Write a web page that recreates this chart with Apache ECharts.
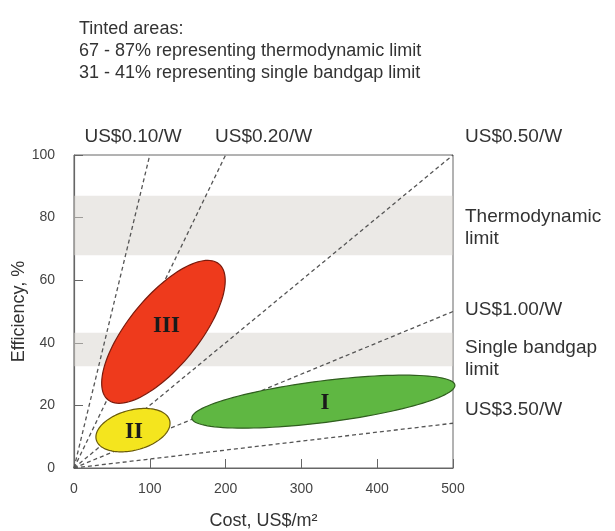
<!DOCTYPE html>
<html><head><meta charset="utf-8">
<script src="https://cdn.jsdelivr.net/npm/echarts@6/dist/echarts.min.js"></script>
<style>html,body{margin:0;padding:0;background:#fff}#c{width:615px;height:531px}</style>
</head><body><div id="c"></div>
<script>
// ---- data ----
const costTicks = [0, 100, 200, 300, 400, 500];
const effTicks = [0, 20, 40, 60, 80, 100];
// cost-per-watt guide lines from the origin, end points (cost US$/m2, efficiency %)
const priceLabels = ['US$0.10/W', 'US$0.20/W', 'US$0.50/W', 'US$1.00/W', 'US$3.50/W'];
const lineEndCost = [100, 200, 500, 500, 500];
const lineEndEff = [100, 100, 100, 50, 14.3];
// tinted bands (efficiency %)
const bandNames = ['Thermodynamic limit', 'Single bandgap limit'];
const bandLow = [68, 32.5];
const bandHigh = [87, 43.2];
// technology generations drawn as ellipses: centre, major and minor half-vectors (data units)
const genNames = ['I', 'II', 'III'];
const centerCost = [329, 77.8, 118];
const centerEff = [21.2, 12.1, 43.5];
const majorCost = [173.5, 48.4, 73.2];
const majorEff = [5.3, 3.1, 21.7];
const minorCost = [3.4, 6.9, 35.8];
const minorEff = [-6.6, -6.2, -7.1];
// where the generation numerals sit (data units)
const labelCost = [331, 79, 122];
const labelEff = [20.8, 11.5, 45.5];

const FONT = "'Liberation Sans', Arial, Helvetica, sans-serif";
const genFill = ['#5fb742', '#f4e51e', '#ee3a1c'];
const genStroke = ['#2f5e1e', '#6a5b08', '#7a1a0c'];

const chart = echarts.init(document.getElementById('c'), null, {renderer: 'canvas'});

const lineSeries = priceLabels.map((n, i) => ({
  name: n, type: 'line', z: 1, silent: true, symbol: 'none',
  data: [[0, 0], [lineEndCost[i], lineEndEff[i]]],
  lineStyle: {color: '#555', width: 1.3, type: [4, 3]}
}));

const ellipseData = genNames.map((n, i) => [centerCost[i], centerEff[i], majorCost[i], majorEff[i], minorCost[i], minorEff[i], i, labelCost[i], labelEff[i]]);

const ellipseSeries = {
  type: 'custom', z: 2, silent: true,
  data: ellipseData,
  renderItem: function (params, api) {
    const cx = api.value(0), cy = api.value(1), ux = api.value(2), uy = api.value(3), vx = api.value(4), vy = api.value(5);
    const k = api.value(6);
    const pts = [];
    for (let j = 0; j < 120; j++) {
      const t = j / 120 * Math.PI * 2;
      pts.push(api.coord([cx + ux * Math.cos(t) + vx * Math.sin(t), cy + uy * Math.cos(t) + vy * Math.sin(t)]));
    }
    return {
      type: 'polygon', shape: {points: pts}, style: {fill: genFill[k], stroke: genStroke[k], lineWidth: 1.2}
    };
  }
};

const numeralSeries = {
  type: 'custom', z: 8, silent: true,
  data: ellipseData,
  renderItem: function (params, api) {
    const k = api.value(6);
    const c = api.coord([api.value(7), api.value(8)]);
    return {type: 'text', x: c[0], y: c[1], style: {text: genNames[k], fill: '#1a1a1a', font: "bold 23px 'Liberation Serif', 'Times New Roman', serif", align: 'center', verticalAlign: 'middle'}};
  }
};

const bandSeries = {
  type: 'line', z: 5, silent: true, data: [],
  markArea: {
    silent: true,
    itemStyle: {color: 'rgba(215,212,205,0.5)'},
    data: bandNames.map((n, i) => [{yAxis: bandLow[i]}, {yAxis: bandHigh[i]}])
  }
};

const txt = (text, x, y, align) => ({type: 'text', x: x, y: y, style: {text: text, font: "19px " + FONT, fill: '#333', align: align || 'left', verticalAlign: 'middle', lineHeight: 22}});

chart.setOption({
  animation: false,
  backgroundColor: '#fff',
  title: {
    text: 'Tinted areas:\n67 - 87% representing thermodynamic limit\n31 - 41% representing single bandgap limit',
    left: 74, top: 13,
    textStyle: {fontFamily: FONT, fontSize: 18, fontWeight: 'normal', color: '#333', lineHeight: 22}
  },
  grid: {left: 74, right: 162, top: 155, bottom: 63, containLabel: false, outerBoundsMode: 'none', show: true, borderColor: '#666', borderWidth: 1, backgroundColor: 'transparent'},
  xAxis: {
    type: 'value', min: 0, max: 500, interval: 100,
    name: 'Cost, US$/m²', nameLocation: 'middle', nameGap: 44, nameMoveOverlap: false,
    nameTextStyle: {fontFamily: FONT, fontSize: 18, color: '#333'},
    axisLine: {show: true, lineStyle: {color: '#666', width: 1.2}},
    axisTick: {show: true, inside: true, length: 9, lineStyle: {color: '#666'}},
    axisLabel: {fontFamily: FONT, fontSize: 14, color: '#444', margin: 14},
    splitLine: {show: false}
  },
  yAxis: {
    type: 'value', min: 0, max: 100, interval: 20,
    name: 'Efficiency, %', nameLocation: 'middle', nameGap: 46, nameMoveOverlap: false,
    nameTextStyle: {fontFamily: FONT, fontSize: 18, color: '#333'},
    axisLine: {show: true, lineStyle: {color: '#666', width: 1.2}},
    axisTick: {show: true, inside: true, length: 9, lineStyle: {color: '#666'}},
    axisLabel: {fontFamily: FONT, fontSize: 14, color: '#444', margin: 19},
    splitLine: {show: false}
  },
  series: [...lineSeries, ellipseSeries, bandSeries, numeralSeries],
  graphic: [
    txt(priceLabels[0], 133, 137, 'center'),
    txt(priceLabels[1], 215, 137),
    txt(priceLabels[2], 465, 137),
    txt('Thermodynamic\nlimit', 465, 228),
    txt(priceLabels[3], 465, 310),
    txt('Single bandgap\nlimit', 465, 359),
    txt(priceLabels[4], 465, 410)
  ]
});
</script></body></html>
